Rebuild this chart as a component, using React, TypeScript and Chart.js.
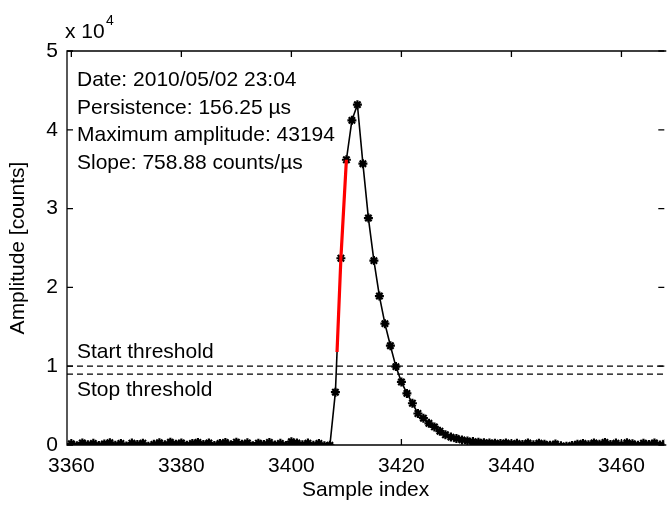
import React, { useEffect, useRef } from 'react';
import { Chart, registerables } from 'chart.js';

Chart.register(...registerables);

const FONT = '"Liberation Sans", Arial, Helvetica, sans-serif';

// Axis limits and ticks
const xMin = 3359.21;
const xMax = 3467.79;
const xTicks = [3360, 3380, 3400, 3420, 3440, 3460];
const yTicks = [0, 10000, 20000, 30000, 40000, 50000];

// Signal: baseline (3360..3407)
const baselineStart = 3360;
const baselineValues = [
  150, -80, 260, 40, 210, -60, 130, 300, -20, 190, -120, 240, 60, 220, -150, 80,
  280, 20, 340, 110, 260, -40, 200, 330, 70, 250, -60, 180, 310, 30, 360, 90,
  270, -90, 230, 60, 320, 10, 210, -50, 420, 250, 40, 240, -30, 190, -80, -40,
];
// Pulse (3408..3440)
const pulseStart = 3408;
const pulseValues = [
  6700, 23700, 36200, 41200, 43194, 35700, 28800, 23400, 18900, 15400, 12600,
  9950, 8000, 6550, 5300, 4000, 3400, 2750, 2300, 1750, 1300, 1000, 820, 650,
  520, 430, 360, 300, 250, 230, 180, 260, 120,
];
// Tail (3441..3468)
const tailStart = 3441;
const tailValues = [
  210, 60, 250, 20, 230, 90, -40, 120, -110, -160, -60, 110, 200, 40, 260, 100,
  330, 60, 240, -10, 280, 150, -20, 220, 70, 260, 0, 190,
];

// Red slope segment
const slopeX = [3408.3, 3409, 3410];
const slopeY = [11800, 23700, 36200];

// Thresholds
const startThreshold = 10000;
const stopThreshold = 9000;

const infoLines = [
  'Date: 2010/05/02 23:04',
  'Persistence: 156.25 \u00b5s',
  'Maximum amplitude: 43194',
  'Slope: 758.88 counts/\u00b5s',
];

function series(start: number, values: number[]) {
  return values.map((v, i) => ({ x: start + i, y: v }));
}

const framePlugin = {
  id: 'matlabFrame',
  beforeDatasetsDraw(chart: any) {
    const { ctx, chartArea, scales } = chart;
    const { left, right, top, bottom } = chartArea;
    ctx.save();
    ctx.strokeStyle = '#000';
    ctx.lineWidth = 1.3;
    ctx.beginPath();
    ctx.moveTo(right + 2, top);
    ctx.lineTo(left, top);
    ctx.lineTo(left, bottom);
    ctx.lineTo(right + 2, bottom);
    ctx.stroke();
    const tl = 6;
    ctx.beginPath();
    for (const v of xTicks) {
      const px = scales.x.getPixelForValue(v);
      ctx.moveTo(px, bottom);
      ctx.lineTo(px, bottom - tl);
      ctx.moveTo(px, top);
      ctx.lineTo(px, top + tl);
    }
    for (const v of yTicks) {
      const py = scales.y.getPixelForValue(v);
      ctx.moveTo(left, py);
      ctx.lineTo(left + tl, py);
      ctx.moveTo(right, py);
      ctx.lineTo(right - tl, py);
    }
    ctx.stroke();
    ctx.restore();
  },
  afterDraw(chart: any) {
    const { ctx, chartArea, scales } = chart;
    const { left, top } = chartArea;
    ctx.save();
    ctx.fillStyle = '#000';
    ctx.textAlign = 'left';
    ctx.textBaseline = 'alphabetic';
    ctx.font = `21px ${FONT}`;
    infoLines.forEach((t, i) => {
      ctx.fillText(t, left + 10, top + 35 + i * 27.5);
    });
    const ys = scales.y.getPixelForValue(startThreshold);
    const yp = scales.y.getPixelForValue(stopThreshold);
    ctx.fillText('Start threshold', left + 10, ys - 8.5);
    ctx.fillText('Stop threshold', left + 10, yp + 22);
    // exponent label
    ctx.fillText('x 10', left - 2, top - 12.7);
    ctx.font = `14px ${FONT}`;
    ctx.fillText('4', left + 39, top - 26);
    ctx.restore();
  },
};

export default function App() {
  const ref = useRef<HTMLCanvasElement>(null);

  useEffect(() => {
    const canvas = ref.current;
    if (!canvas) return;
    const mainData = [
      ...series(baselineStart, baselineValues),
      ...series(pulseStart, pulseValues),
      ...series(tailStart, tailValues),
    ];
    const slopeData = slopeX.map((x, i) => ({ x, y: slopeY[i] }));
    const chart = new Chart(canvas, {
      type: 'line',
      data: {
        datasets: [
          {
            label: 'slope',
            data: slopeData,
            borderColor: '#ff0000',
            borderWidth: 3.2,
            pointRadius: 0,
            tension: 0,
            order: 0,
          },
          {
            label: 'signal',
            data: mainData,
            borderColor: '#000',
            borderWidth: 1.6,
            pointStyle: 'star',
            pointRadius: 4.5,
            pointBorderWidth: 2.2,
            pointBorderColor: '#000',
            pointBackgroundColor: '#000',
            tension: 0,
            order: 1,
          },
          {
            label: 'start',
            data: [
              { x: xMin, y: startThreshold },
              { x: xMax, y: startThreshold },
            ],
            borderColor: '#000',
            borderWidth: 1.2,
            borderDash: [6, 4],
            pointRadius: 0,
            order: 2,
          },
          {
            label: 'stop',
            data: [
              { x: xMin, y: stopThreshold },
              { x: xMax, y: stopThreshold },
            ],
            borderColor: '#000',
            borderWidth: 1.2,
            borderDash: [6, 4],
            pointRadius: 0,
            order: 2,
          },
        ],
      },
      options: {
        responsive: false,
        animation: false,
        devicePixelRatio: 1,
        events: [],
        layout: { padding: { top: 51, left: 0, right: 0, bottom: 0 } },
        plugins: {
          legend: { display: false },
          tooltip: { enabled: false },
        },
        scales: {
          x: {
            type: 'linear',
            min: xMin,
            max: xMax,
            afterBuildTicks: (s: any) => {
              s.ticks = xTicks.map((v) => ({ value: v }));
            },
            afterFit: (s: any) => {
              s.height = 61;
            },
            grid: { display: false, drawTicks: false },
            border: { display: false },
            ticks: {
              padding: 9,
              color: '#000',
              maxRotation: 0,
              autoSkip: false,
              font: { family: FONT, size: 21 },
              callback: (v: any) => String(v),
            },
            title: {
              display: true,
              text: 'Sample index',
              color: '#000',
              font: { family: FONT, size: 21 },
              padding: { top: 0, bottom: 3 },
            },
          },
          y: {
            type: 'linear',
            min: 0,
            max: 50000,
            afterBuildTicks: (s: any) => {
              s.ticks = yTicks.map((v) => ({ value: v }));
            },
            afterFit: (s: any) => {
              s.width = 67;
            },
            grid: { display: false, drawTicks: false },
            border: { display: false },
            ticks: {
              padding: 9,
              color: '#000',
              autoSkip: false,
              font: { family: FONT, size: 21 },
              callback: (v: any) => String(Number(v) / 10000),
            },
            title: {
              display: true,
              text: 'Amplitude [counts]',
              color: '#000',
              font: { family: FONT, size: 21 },
              padding: { top: 6, bottom: 0 },
            },
          },
        },
      },
      plugins: [framePlugin],
    } as any);
    return () => chart.destroy();
  }, []);

  return (
    <div
      style={{
        position: 'fixed',
        left: 0,
        top: 0,
        width: 671,
        height: 506,
        background: '#fff',
      }}
    >
      <canvas
        ref={ref}
        width={671}
        height={506}
        style={{ display: 'block', width: 671, height: 506 }}
      />
    </div>
  );
}
